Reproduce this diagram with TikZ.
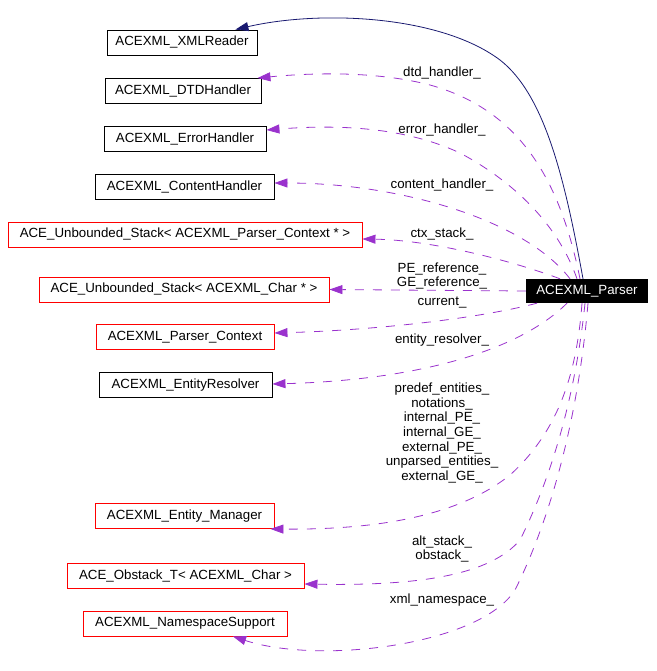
\documentclass[tikz,border=0pt]{standalone}
\usepackage{fontspec}
\setmainfont{Liberation Sans}
\usetikzlibrary{arrows.meta,calc}
\definecolor{edgepurple}{HTML}{9A32CD}
\definecolor{edgenavy}{HTML}{191970}
\begin{document}
\begin{tikzpicture}[x=1pt,y=-1pt,
  every node/.style={font=\fontsize{13.3}{14.7}\selectfont},
  cls/.style={draw=black, line width=0.9pt, rectangle, minimum height=25pt, inner sep=0pt},
  redcls/.style={cls, draw=red},
  mainbox/.style={rectangle, fill=black, text=white, minimum height=24pt, minimum width=122pt, inner sep=0pt},
  lbl/.style={align=center, inner sep=0pt},
  refedge/.style={draw=edgepurple, line width=0.8pt, dash pattern=on 9pt off 9pt, -{Triangle[length=13pt,width=9pt]}},
  inhedge/.style={draw=edgenavy, line width=0.8pt, -{Triangle[length=13pt,width=9pt]}}]
\useasboundingbox (0,0) rectangle (656,671);

% class boxes
\node[cls, minimum width=150pt] (xmlreader) at (182,42.5) {ACEXML\_XMLReader};
\node[cls, minimum width=156pt] (dtd) at (183,91) {ACEXML\_DTDHandler};
\node[cls, minimum width=162pt] (error) at (185,139) {ACEXML\_ErrorHandler};
\node[cls, minimum width=179pt] (content) at (184.5,187) {ACEXML\_ContentHandler};
\node[redcls, minimum width=354pt] (stackctx) at (185,234.5) {ACE\_Unbounded\_Stack< ACEXML\_Parser\_Context * >};
\node[redcls, minimum width=290pt] (stackchar) at (184,289.5) {ACE\_Unbounded\_Stack< ACEXML\_Char * >};
\node[redcls, minimum width=178pt] (pcontext) at (185,337) {ACEXML\_Parser\_Context};
\node[cls, minimum width=173pt] (eresolver) at (185.5,385) {ACEXML\_EntityResolver};
\node[redcls, minimum width=179pt] (emanager) at (184.5,516) {ACEXML\_Entity\_Manager};
\node[redcls, minimum width=237pt] (obstack) at (185.5,576) {ACE\_Obstack\_T< ACEXML\_Char >};
\node[redcls, minimum width=204pt] (nssupport) at (185,623.5) {ACEXML\_NamespaceSupport};
\node[mainbox] (parser) at (587,291) {ACEXML\_Parser};

% inheritance edge
\draw[inhedge] ($(parser.north)+(-4,0)$) .. controls (565,180) and (545,95) .. (500,60)
  .. controls (440,15) and (320,10) .. ($(xmlreader.north east)+(-22,0)$);

% usage edges
\draw[refedge] ($(parser.north)+(-7,0)$) .. controls (560,180) and (520,110) .. (430,85)
  .. controls (380,72) and (320,72) .. ($(dtd.north east)+(-4,0)$);
\draw[refedge] ($(parser.north)+(-10,0)$) .. controls (560,230) and (520,185) .. (460,153)
  .. controls (400,125) and (330,125) .. ($(error.east)+(0,-9)$);
\draw[refedge] ($(parser.north)+(-17,0)$) .. controls (525,220) and (400,183) .. ($(content.east)+(0,-4)$);
\draw[refedge] ($(parser.north)+(-27,0)$) .. controls (510,260) and (430,240) .. ($(stackctx.east)+(0,4.5)$);
\draw[refedge] (parser.west) -- (stackchar.east);
\draw[refedge] ($(parser.south)+(-50,0)$) .. controls (480,318) and (380,330) .. ($(pcontext.east)+(0,-4)$);
\draw[refedge] ($(parser.south)+(-20,0)$) .. controls (520,350) and (420,380) .. ($(eresolver.east)+(0,-1)$);
\draw[refedge] ($(parser.south)+(-5,0)$) .. controls (577,370) and (560,430) .. (510,475)
  .. controls (460,515) and (380,530) .. ($(emanager.south east)+(-4,0)$);
\draw[refedge] ($(parser.south)+(-2,0)$) .. controls (575,400) and (550,480) .. (520,540)
  .. controls (490,575) and (420,586) .. ($(obstack.east)+(0,8)$);
\draw[refedge] ($(parser.south)+(1,0)$) .. controls (578,420) and (550,520) .. (515,590)
  .. controls (480,645) and (320,665) .. ($(nssupport.south)+(48,0)$);

% edge labels
\node[lbl] (l1) at (442,73) {dtd\_handler\_};
\node[lbl] (l2) at (442,130) {error\_handler\_};
\node[lbl] (l3) at (442,185) {content\_handler\_};
\node[lbl] (l4) at (442,234) {ctx\_stack\_};
\node[lbl] (l5) at (442,276) {PE\_reference\_\\GE\_reference\_};
\node[lbl] (l6) at (442,303) {current\_};
\node[lbl] (l7) at (442,340) {entity\_resolver\_};
\node[lbl] (l8) at (442,433) {predef\_entities\_\\notations\_\\internal\_PE\_\\internal\_GE\_\\external\_PE\_\\unparsed\_entities\_\\external\_GE\_};
\node[lbl] (l9) at (442,549) {alt\_stack\_\\obstack\_};
\node[lbl] (l10) at (442,600) {xml\_namespace\_};
\end{tikzpicture}
\end{document}
